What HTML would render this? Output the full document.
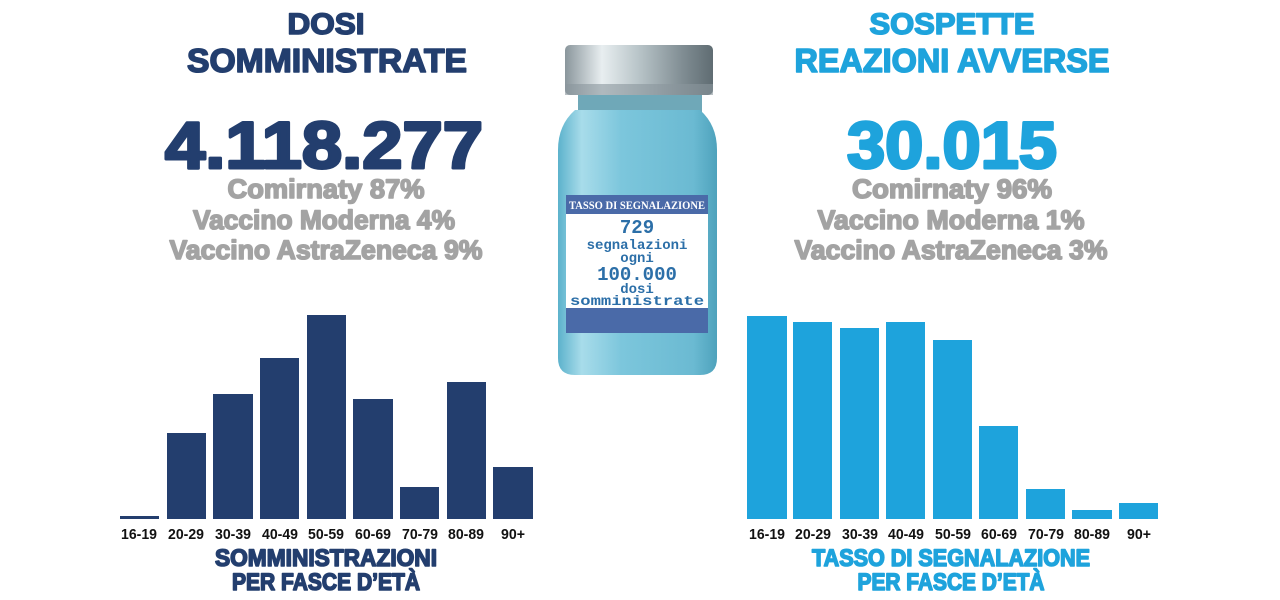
<!DOCTYPE html>
<html><head><meta charset="utf-8"><style>
html,body{margin:0;padding:0;background:#fff;}
svg{display:block;}
text{font-family:"Liberation Sans",sans-serif;font-weight:bold;}
.h{stroke-width:1.6;stroke-linejoin:round;}
</style></head><body>
<svg width="1280" height="600" viewBox="0 0 1280 600" xmlns="http://www.w3.org/2000/svg">
<defs>
<linearGradient id="cap" x1="0" x2="1" y1="0" y2="0">
<stop offset="0" stop-color="#8a969c"/><stop offset="0.25" stop-color="#e8eef0"/><stop offset="0.5" stop-color="#b8c4c8"/><stop offset="0.8" stop-color="#7f8c92"/><stop offset="1" stop-color="#5f6c72"/>
</linearGradient>
<linearGradient id="body" x1="0" x2="1" y1="0" y2="0">
<stop offset="0" stop-color="#5cb2cc"/><stop offset="0.15" stop-color="#a8dcea"/><stop offset="0.4" stop-color="#7cc6dc"/><stop offset="0.85" stop-color="#6bbad2"/><stop offset="1" stop-color="#4ea2bc"/>
</linearGradient>
</defs>
<g fill="#233e6e" stroke="#233e6e" class="h" text-anchor="middle">
<text x="326" y="34" font-size="30" textLength="77" lengthAdjust="spacingAndGlyphs">DOSI</text>
<text x="327" y="72" font-size="33" textLength="280" lengthAdjust="spacingAndGlyphs">SOMMINISTRATE</text>
<text x="324" y="168" font-size="66" stroke-width="3" textLength="318" lengthAdjust="spacingAndGlyphs">4.118.277</text>
</g>
<g fill="#a3a3a3" stroke="#a3a3a3" class="h" text-anchor="middle" font-size="27">
<text x="326" y="198" textLength="197" lengthAdjust="spacingAndGlyphs">Comirnaty 87%</text>
<text x="324" y="229" textLength="262" lengthAdjust="spacingAndGlyphs">Vaccino Moderna 4%</text>
<text x="326" y="259" textLength="313" lengthAdjust="spacingAndGlyphs">Vaccino AstraZeneca 9%</text>
</g>
<g fill="#1ea3dc" stroke="#1ea3dc" class="h" text-anchor="middle">
<text x="952" y="34" font-size="30" textLength="165" lengthAdjust="spacingAndGlyphs">SOSPETTE</text>
<text x="952" y="72" font-size="33" textLength="315" lengthAdjust="spacingAndGlyphs">REAZIONI AVVERSE</text>
<text x="952" y="168" font-size="66" stroke-width="3" textLength="210" lengthAdjust="spacingAndGlyphs">30.015</text>
</g>
<g fill="#a3a3a3" stroke="#a3a3a3" class="h" text-anchor="middle" font-size="27">
<text x="952" y="198" textLength="200" lengthAdjust="spacingAndGlyphs">Comirnaty 96%</text>
<text x="951" y="229" textLength="267" lengthAdjust="spacingAndGlyphs">Vaccino Moderna 1%</text>
<text x="951" y="259" textLength="313" lengthAdjust="spacingAndGlyphs">Vaccino AstraZeneca 3%</text>
</g>
<rect x="578" y="92" width="124" height="22" fill="#6fa8b8"/>
<path d="M575 110 Q558 125 558 150 L558 358 Q558 375 575 375 L700 375 Q717 375 717 358 L717 150 Q717 125 700 110 Z" fill="url(#body)"/>
<rect x="565" y="45" width="148" height="50" rx="5" fill="url(#cap)"/>
<rect x="565" y="84" width="148" height="11" fill="#8a969c" opacity="0.6"/>
<rect x="566" y="195" width="142" height="19" fill="#4a6aa8"/>
<rect x="566" y="214" width="142" height="94" fill="#ffffff"/>
<rect x="566" y="308" width="142" height="25" fill="#4a6aa8"/>
<text x="637" y="209" font-size="12" fill="#fff" text-anchor="middle" style="font-family:'Liberation Serif',serif" textLength="136" lengthAdjust="spacingAndGlyphs">TASSO DI SEGNALAZIONE</text>
<g fill="#2c6fa8" text-anchor="middle">
<text x="637" y="233" font-size="19" style="font-family:'Liberation Mono',monospace">729</text>
<text x="637" y="249" font-size="14" style="font-family:'Liberation Mono',monospace">segnalazioni</text>
<text x="637" y="262" font-size="14" style="font-family:'Liberation Mono',monospace">ogni</text>
<text x="637" y="280" font-size="19" style="font-family:'Liberation Mono',monospace">100.000</text>
<text x="637" y="293" font-size="14" style="font-family:'Liberation Mono',monospace">dosi</text>
<text x="637" y="305" font-size="14" style="font-family:'Liberation Mono',monospace" textLength="134" lengthAdjust="spacingAndGlyphs">somministrate</text>
</g>
<g fill="#233e6e">
<rect x="120" y="516" width="39" height="3"/>
<rect x="167" y="433" width="39" height="86"/>
<rect x="213" y="394" width="40" height="125"/>
<rect x="260" y="358" width="39" height="161"/>
<rect x="307" y="315" width="39" height="204"/>
<rect x="353" y="399" width="40" height="120"/>
<rect x="400" y="487" width="39" height="32"/>
<rect x="447" y="382" width="39" height="137"/>
<rect x="493" y="467" width="40" height="52"/>
</g>
<g fill="#111" font-size="15" text-anchor="middle">
<text x="139" y="539" textLength="36" lengthAdjust="spacingAndGlyphs">16-19</text>
<text x="186" y="539" textLength="36" lengthAdjust="spacingAndGlyphs">20-29</text>
<text x="233" y="539" textLength="36" lengthAdjust="spacingAndGlyphs">30-39</text>
<text x="280" y="539" textLength="36" lengthAdjust="spacingAndGlyphs">40-49</text>
<text x="326" y="539" textLength="36" lengthAdjust="spacingAndGlyphs">50-59</text>
<text x="373" y="539" textLength="36" lengthAdjust="spacingAndGlyphs">60-69</text>
<text x="420" y="539" textLength="36" lengthAdjust="spacingAndGlyphs">70-79</text>
<text x="466" y="539" textLength="36" lengthAdjust="spacingAndGlyphs">80-89</text>
<text x="513" y="539" textLength="24" lengthAdjust="spacingAndGlyphs">90+</text>
</g>
<g fill="#233e6e" stroke="#233e6e" class="h" font-size="24" text-anchor="middle">
<text x="326" y="566" textLength="222" lengthAdjust="spacingAndGlyphs">SOMMINISTRAZIONI</text>
<text x="326" y="590" textLength="188" lengthAdjust="spacingAndGlyphs">PER FASCE D’ETÀ</text>
</g>
<g fill="#1ea3dc">
<rect x="747" y="316" width="40" height="203"/>
<rect x="793" y="322" width="39" height="197"/>
<rect x="840" y="328" width="39" height="191"/>
<rect x="886" y="322" width="39" height="197"/>
<rect x="933" y="340" width="39" height="179"/>
<rect x="979" y="426" width="39" height="93"/>
<rect x="1026" y="489" width="39" height="30"/>
<rect x="1072" y="510" width="40" height="9"/>
<rect x="1119" y="503" width="39" height="16"/>
</g>
<g fill="#111" font-size="15" text-anchor="middle">
<text x="767" y="539" textLength="36" lengthAdjust="spacingAndGlyphs">16-19</text>
<text x="813" y="539" textLength="36" lengthAdjust="spacingAndGlyphs">20-29</text>
<text x="860" y="539" textLength="36" lengthAdjust="spacingAndGlyphs">30-39</text>
<text x="906" y="539" textLength="36" lengthAdjust="spacingAndGlyphs">40-49</text>
<text x="953" y="539" textLength="36" lengthAdjust="spacingAndGlyphs">50-59</text>
<text x="999" y="539" textLength="36" lengthAdjust="spacingAndGlyphs">60-69</text>
<text x="1046" y="539" textLength="36" lengthAdjust="spacingAndGlyphs">70-79</text>
<text x="1092" y="539" textLength="36" lengthAdjust="spacingAndGlyphs">80-89</text>
<text x="1139" y="539" textLength="24" lengthAdjust="spacingAndGlyphs">90+</text>
</g>
<g fill="#1ea3dc" stroke="#1ea3dc" class="h" font-size="24" text-anchor="middle">
<text x="951" y="566" textLength="278" lengthAdjust="spacingAndGlyphs">TASSO DI SEGNALAZIONE</text>
<text x="951" y="590" textLength="187" lengthAdjust="spacingAndGlyphs">PER FASCE D’ETÀ</text>
</g>
</svg>
</body></html>
